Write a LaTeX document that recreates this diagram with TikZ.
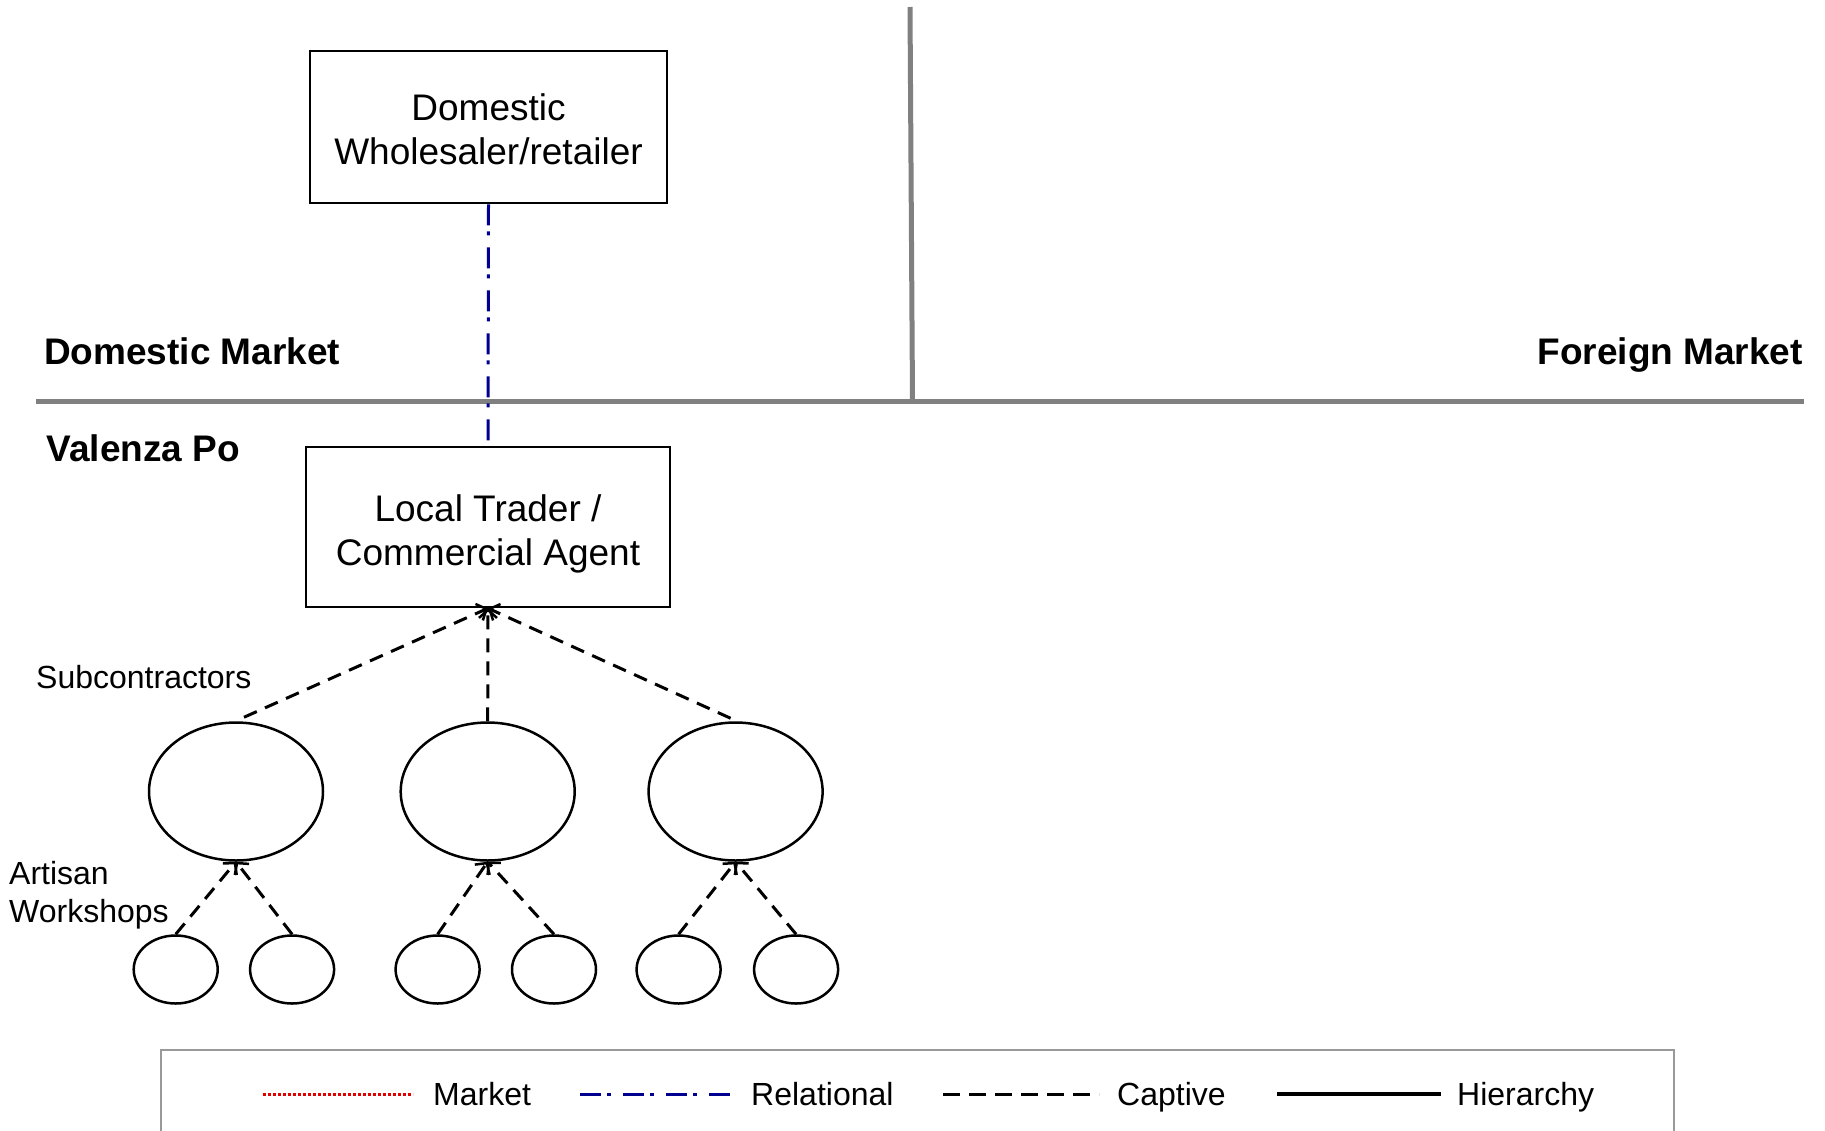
\documentclass[tikz,border=0pt]{standalone}
\usepackage{fontspec}
\setmainfont{Liberation Sans}
\usetikzlibrary{arrows.meta,shapes.geometric}
\definecolor{rulegray}{HTML}{808080}
\definecolor{relblue}{HTML}{000090}
\definecolor{mktred}{HTML}{E00000}
\begin{document}
\begin{tikzpicture}[x=1pt,y=-1pt,
  box/.style={draw,line width=2.5pt,inner sep=0pt},
  boxtext/.style={inner sep=0pt,align=center,font=\fontsize{37}{44}\selectfont},
  sub/.style={draw,ellipse,line width=2.5pt,minimum width=174pt,minimum height=138pt,inner sep=0pt},
  shop/.style={draw,ellipse,line width=2.5pt,minimum width=84pt,minimum height=68pt,inner sep=0pt},
  divider/.style={draw=rulegray,line width=5pt},
  region/.style={font=\fontsize{37}{44}\selectfont\bfseries,inner sep=0pt},
  tier/.style={font=\fontsize{32}{38.4}\selectfont,inner sep=0pt,align=left},
  legtext/.style={font=\fontsize{32}{38.4}\selectfont,inner sep=0pt,anchor=base west},
  market/.style={draw=mktred,line width=3pt,dash pattern=on 2.5pt off 2.5pt},
  relational/.style={draw=relblue,line width=3pt,dash pattern=on 21pt off 6pt on 4pt off 12pt},
  captive/.style={draw=black,line width=3pt,dash pattern=on 14pt off 9pt},
  hierarchy/.style={draw=black,line width=4pt},
  tip/.style={-{Straight Barb[length=8pt,width=18pt,line width=2.5pt]}}
]
\useasboundingbox (0,0) rectangle (1825,1130);

% market boundary lines
\coordinate (vtop) at (910,7);
\coordinate (vbot) at (912.5,401.5);
\coordinate (hl) at (36,401.5);
\coordinate (hr) at (1804,401.5);
\draw[divider] (vtop) -- (vbot);
\draw[divider] (hl) -- (hr);

% region labels
\node[region,anchor=base west] (dom) at (44,364) {Domestic Market};
\node[region,anchor=base east] (for) at (1803,364) {Foreign Market};
\node[region,anchor=base west] (val) at (46.5,461) {Valenza Po};

% actors
\node[box,minimum width=357pt,minimum height=152pt] (whole) at (488.5,127) {};
\node[boxtext] (wholetext) at (488.5,129.5) {Domestic\\Wholesaler/retailer};
\node[box,minimum width=364pt,minimum height=160pt] (trader) at (488,527) {};
\node[boxtext] (tradertext) at (488,534) {Local Trader /\\Commercial Agent};

\draw[relational] (whole.south) -- (trader.north);

% subcontractors
\node[sub] (s1) at (236,791.5) {};
\node[sub] (s2) at (487.7,791.5) {};
\node[sub] (s3) at (735.6,791.5) {};

% artisan workshops
\node[shop] (w1) at (175.7,969.5) {};
\node[shop] (w2) at (292.1,969.5) {};
\node[shop] (w3) at (437.6,969.5) {};
\node[shop] (w4) at (554,969.5) {};
\node[shop] (w5) at (678.6,969.5) {};
\node[shop] (w6) at (796.1,969.5) {};

\node[tier,anchor=base west] (sublbl) at (36,688.5) {Subcontractors};
\node[tier,anchor=west] (shoplbl) at (9,895) {Artisan\\Workshops};

% captive links (pointing up to the buyer)
\draw[captive,tip] ([xshift=8pt,yshift=4pt]s1.north) -- (trader.south);
\draw[captive,tip] (s2.north) -- (trader.south);
\draw[captive,tip] ([xshift=-5pt,yshift=3pt]s3.north) -- (trader.south);

\draw[captive,tip] (w1.north) -- (s1.south);
\draw[captive,tip] (w2.north) -- (s1.south);
\draw[captive,tip] (w3.north) -- (s2.south);
\draw[captive,tip] (w4.north) -- (s2.south);
\draw[captive,tip] (w5.north) -- (s3.south);
\draw[captive,tip] (w6.north) -- (s3.south);

% legend
\coordinate (lg1) at (160.6,1135);
\coordinate (lg2) at (160.6,1050);
\coordinate (lg3) at (1673.7,1050);
\coordinate (lg4) at (1673.7,1135);
\draw[draw=gray!80,line width=2pt] (lg1) -- (lg2) -- (lg3) -- (lg4);

\coordinate (m1) at (263,1094);  \coordinate (m2) at (413,1094);
\coordinate (r1) at (580,1094);  \coordinate (r2) at (733,1094);
\coordinate (c1) at (943,1094);  \coordinate (c2) at (1099,1094);
\coordinate (h1) at (1277,1094); \coordinate (h2) at (1441,1094);
\draw[market] (m1) -- (m2);
\draw[relational] (r1) -- (r2);
\draw[captive,dash pattern=on 17pt off 9pt] (c1) -- (c2);
\draw[hierarchy] (h1) -- (h2);
\node[legtext] (lm) at (433,1105.5) {Market};
\node[legtext] (lr) at (751,1105.5) {Relational};
\node[legtext] (lc) at (1117,1105.5) {Captive};
\node[legtext] (lh) at (1457,1105.5) {Hierarchy};
\end{tikzpicture}
\end{document}
